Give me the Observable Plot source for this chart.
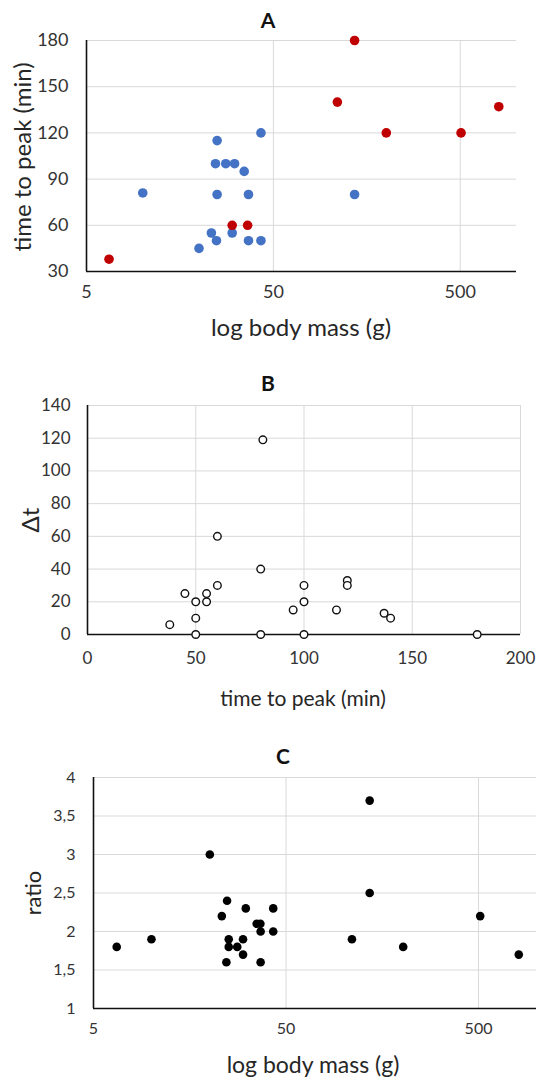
<!DOCTYPE html>
<html>
<head>
<meta charset="utf-8">
<script src="https://cdn.jsdelivr.net/npm/d3@7"></script>
<script src="https://cdn.jsdelivr.net/npm/@observablehq/plot@0.6"></script>
<style>
  html, body { margin: 0; padding: 0; background: #fff; }
  #wrap { position: relative; width: 536px; height: 1081px; font-family: Lato, "Open Sans", sans-serif; color: #262626; }
  .panel { position: absolute; left: 0; }
  .lbl { position: absolute; white-space: nowrap; transform: translate(-50%, -50%); line-height: 1; }
  .rot { transform: translate(-50%, -50%) rotate(-90deg); }
  .ttl { font-weight: bold; font-size: 20px; color: #111; }
</style>
</head>
<body>
<div id="wrap"></div>
<script>
// Panel A: body mass (g) vs time to peak (min)
const massBlue = [10, 25, 24.5, 27.8, 31, 34.9, 42.9, 25, 36.8, 136, 23.3, 30.1, 24.8, 36.8, 42.9, 20];
const timeBlue = [81, 115, 100, 100, 100, 95, 120, 80, 80, 80, 55, 55, 50, 50, 50, 45];
const massRed = [6.6, 136, 110, 201, 505, 804, 30.1, 36.4];
const timeRed = [38, 180, 140, 120, 120, 137, 60, 60];

// Panel B: time to peak (min) vs Δt
const peakTime = [81, 60, 80, 60, 45, 55, 50, 55, 50, 38, 50, 80, 100, 180, 100, 100, 95, 115, 120, 120, 137, 140];
const deltaT = [119, 60, 40, 30, 25, 25, 20, 20, 10, 6, 0, 0, 0, 0, 30, 20, 15, 15, 33, 30, 13, 10];

// Panel C: body mass (g) vs ratio
const massC = [6.6, 10, 20.1, 24.7, 23.2, 30.9, 42.9, 35.2, 36.8, 36.9, 42.9, 25.2, 29.9, 25.2, 27.9, 29.9, 24.5, 36.9, 136, 136, 110, 203, 510, 809];
const ratioC = [1.8, 1.9, 3.0, 2.4, 2.2, 2.3, 2.3, 2.1, 2.1, 2.0, 2.0, 1.9, 1.9, 1.8, 1.8, 1.7, 1.6, 1.6, 3.7, 2.5, 1.9, 1.8, 2.2, 1.7];

// tick values
const massTicks = [5, 50, 500];
const timeTicks = [30, 60, 90, 120, 150, 180];
const peakTicks = [0, 50, 100, 150, 200];
const deltaTicks = [0, 20, 40, 60, 80, 100, 120, 140];
const ratioTicks = [1, 1.5, 2, 2.5, 3, 3.5, 4];

const GRID = "#d9d9d9";
const TXT = "#333333";
const BLUE = "#4472C4";
const RED = "#C00000";

const wrap = document.getElementById("wrap");

function place(el, top) {
  const d = document.createElement("div");
  d.className = "panel";
  d.style.top = top + "px";
  d.appendChild(el);
  wrap.appendChild(d);
}
function label(text, x, y, size, cls) {
  const d = document.createElement("div");
  d.className = "lbl " + (cls || "");
  d.textContent = text;
  d.style.left = x + "px";
  d.style.top = y + "px";
  if (size) d.style.fontSize = size + "px";
  wrap.appendChild(d);
}

const tableBlue = massBlue.map((m, i) => ({mass: m, time: timeBlue[i]}));
const tableRed = massRed.map((m, i) => ({mass: m, time: timeRed[i]}));
const tableB = peakTime.map((p, i) => ({peak: p, dt: deltaT[i]}));
const tableC = massC.map((m, i) => ({mass: m, ratio: ratioC[i]}));

// ---------- Panel A ----------
const plotA = Plot.plot({
  width: 536, height: 350,
  marginTop: 40, marginBottom: 79, marginLeft: 86, marginRight: 20,
  style: {fontFamily: "Lato, sans-serif", fontSize: "18px", color: TXT, background: "#fff"},
  x: {type: "log", domain: [5, 1000], axis: null},
  y: {domain: [30, 180]},
  marks: [
    Plot.gridX(massTicks, {stroke: GRID, strokeOpacity: 1, strokeWidth: 1}),
    Plot.gridY(timeTicks, {stroke: GRID, strokeOpacity: 1, strokeWidth: 1}),
    Plot.text(massTicks, {x: d => d, frameAnchor: "bottom", dy: 26, text: d => String(d), fill: TXT, fontSize: 18}),
    Plot.axisY(timeTicks, {tickSize: 0, tickPadding: 18, label: null, fill: TXT}),
    Plot.ruleY([30], {stroke: "#111", strokeWidth: 1.6}),
    Plot.ruleX([5], {stroke: "#111", strokeWidth: 1.6}),
    Plot.dot(tableBlue, {x: "mass", y: "time", r: 4.8, fill: BLUE, stroke: null}),
    Plot.dot(tableRed, {x: "mass", y: "time", r: 4.8, fill: RED, stroke: null})
  ]
});
place(plotA, 0);

// ---------- Panel B ----------
const plotB = Plot.plot({
  width: 536, height: 350,
  marginTop: 55, marginBottom: 66, marginLeft: 87, marginRight: 16,
  style: {fontFamily: "Lato, sans-serif", fontSize: "17px", color: TXT, background: "#fff"},
  x: {domain: [0, 200]},
  y: {domain: [0, 140]},
  marks: [
    Plot.gridX(peakTicks, {stroke: GRID, strokeOpacity: 1, strokeWidth: 1}),
    Plot.gridY(deltaTicks, {stroke: GRID, strokeOpacity: 1, strokeWidth: 1}),
    Plot.axisX(peakTicks, {tickSize: 0, tickPadding: 17, label: null, fill: TXT}),
    Plot.axisY(deltaTicks, {tickSize: 0, tickPadding: 17, label: null, fill: TXT}),
    Plot.ruleY([0], {stroke: "#111", strokeWidth: 1.6}),
    Plot.ruleX([0], {stroke: "#111", strokeWidth: 1.6}),
    Plot.dot(tableB, {x: "peak", y: "dt", r: 3.8, fill: "#fff", stroke: "#111", strokeWidth: 1.4})
  ]
});
place(plotB, 350);

// ---------- Panel C ----------
const plotC = Plot.plot({
  width: 536, height: 381,
  marginTop: 77, marginBottom: 73, marginLeft: 93, marginRight: 0,
  style: {fontFamily: "Lato, sans-serif", fontSize: "16px", color: TXT, background: "#fff"},
  x: {type: "log", domain: [5, 1000], axis: null},
  y: {domain: [1, 4]},
  marks: [
    Plot.gridX(massTicks, {stroke: GRID, strokeOpacity: 1, strokeWidth: 1}),
    Plot.gridY(ratioTicks, {stroke: GRID, strokeOpacity: 1, strokeWidth: 1}),
    Plot.text(massTicks, {x: d => d, frameAnchor: "bottom", dy: 25, text: d => String(d), fill: TXT, fontSize: 16}),
    Plot.axisY(ratioTicks, {tickSize: 0, tickPadding: 18, label: null, tickFormat: d => String(d).replace(".", ","), fill: TXT}),
    Plot.ruleY([1], {stroke: "#111", strokeWidth: 1.6}),
    Plot.ruleX([5], {stroke: "#111", strokeWidth: 1.6}),
    Plot.dot(tableC, {x: "mass", y: "ratio", r: 4.3, fill: "#000", stroke: null})
  ]
});
place(plotC, 700);

// ---------- Titles and axis labels ----------
label("A", 268, 19, 21, "ttl");
label("time to peak (min)", 22, 157, 24, "rot");
label("log body mass (g)", 301, 327, 24);

label("B", 268, 382, 21, "ttl");
label("Δt", 30, 520, 24, "rot");
label("time to peak (min)", 303, 697, 21);

label("C", 283, 755, 21, "ttl");
label("ratio", 33, 893, 22, "rot");
label("log body mass (g)", 313, 1064, 23);
</script>
</body>
</html>
